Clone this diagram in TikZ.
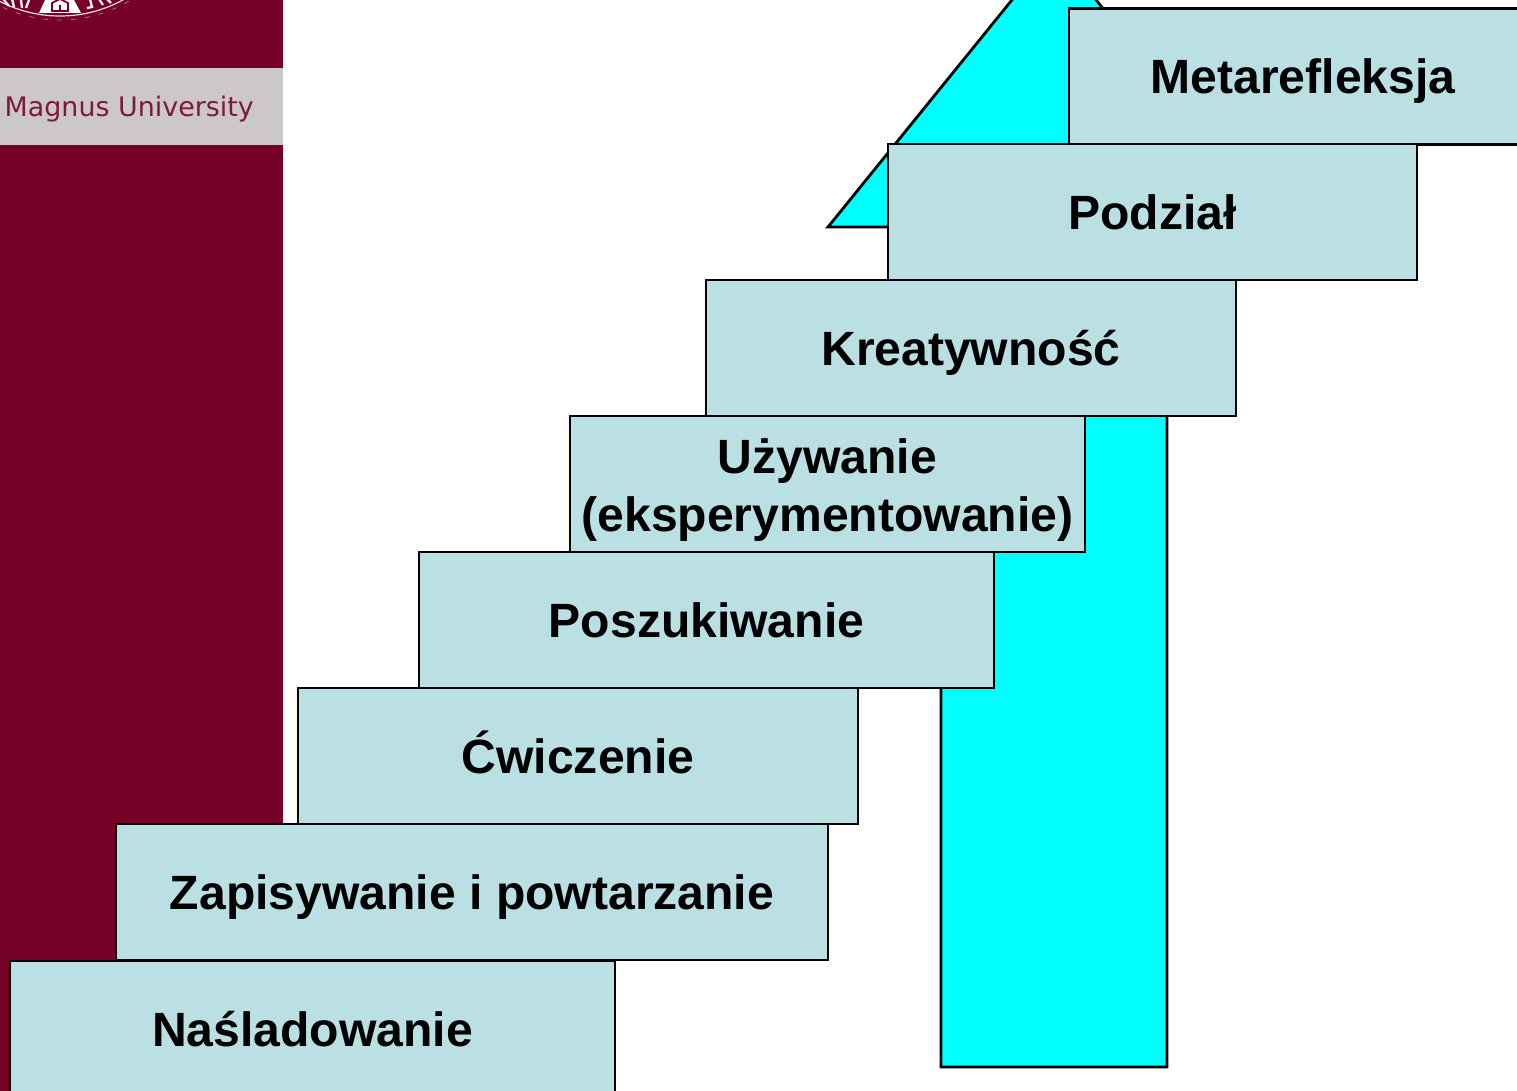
\documentclass[tikz,border=0pt]{standalone}
\usepackage{fontspec}
\setmainfont{Liberation Sans}
\newfontfamily\sidefont{DejaVu Sans}
\definecolor{sidebar}{HTML}{770026}
\definecolor{band}{HTML}{CDC8C8}
\definecolor{bandtext}{HTML}{7D1A3C}
\definecolor{stepfill}{HTML}{BAE0E3}
\definecolor{arrowfill}{HTML}{00FFFF}
\tikzset{
  stepbox/.style={draw=black,line width=2.8pt,fill=stepfill,rectangle,inner sep=0pt,align=center,
    minimum height=136pt,font=\fontsize{48.1}{58}\selectfont\bfseries,text=black},
  oneline/.style={stepbox,text height=35pt,text depth=0pt},
  sealmark/.style={white,line width=2.2pt},
}
\begin{document}
\begin{tikzpicture}[x=1pt,y=-1pt]
\useasboundingbox (0,0) rectangle (1517,1091);
\clip (0,0) rectangle (1517,1091);
\fill[white] (0,0) rectangle (1517,1091);
\fill[sidebar] (0,0) rectangle (283,1091);
\fill[band] (0,68) rectangle (283,145);
\node[anchor=base west,inner sep=0pt,text=bandtext,font=\sidefont\fontsize{26.9}{30}\selectfont] (uni) at (4.5,116.5) {Magnus University};
% seal
\begin{scope}
\clip (-5,-2) rectangle (140,30);
\draw[white!85!sidebar,line width=1.2pt] (60,-115) circle (131);
\draw[white!45!sidebar,line width=0.8pt,dash pattern=on 5pt off 9pt] (60,-115) circle (135);
\fill[white] (39,13) -- (46,-2) -- (73,-2) -- (81,13) -- cycle;
\draw[sidebar,line width=1.6pt] (52,11) -- (52,3) -- (60,-1) -- (68,3) -- (68,11) -- cycle;
\draw[sidebar,line width=1.6pt] (60,5) -- (60,11);
\draw[sealmark] (3,-1) -- (9,6) (12,-1) -- (14,7) (21,0) -- (22,8) (29,0) -- (26,8);
\draw[sealmark] (87,8) -- (92,7) -- (90,-1) (99,-1) -- (103,5) (107,-1) -- (111,3);
\end{scope}
% arrow
\draw[black,line width=2.8pt,fill=arrowfill,line join=miter]
  (941,1067) -- (1167,1067) -- (1167,227) -- (1280,227) -- (1054,-52) -- (828,227) -- (941,227) -- cycle;
% steps
\node[oneline,minimum width=468pt] (meta) at (1303,76.5) {Metarefleksja};
\node[oneline,minimum width=529pt] (podz) at (1152.5,212) {Podział};
\node[oneline,minimum width=530pt] (krea) at (971,348) {Kreatywność};
\node[stepbox,minimum width=515pt] (uzyw) at (827.5,484) {\rule{0pt}{47pt}Używanie\\(eksperymentowanie)};
\node[oneline,minimum width=575pt] (posz) at (706.5,620) {Poszukiwanie};
\node[oneline,minimum width=560pt] (cwic) at (578,756) {Ćwiczenie};
\node[oneline,minimum width=712pt] (zapi) at (472,892) {Zapisywanie i powtarzanie};
\node[oneline,minimum width=605pt] (nasl) at (312.5,1029) {Naśladowanie};
\end{tikzpicture}
\end{document}
